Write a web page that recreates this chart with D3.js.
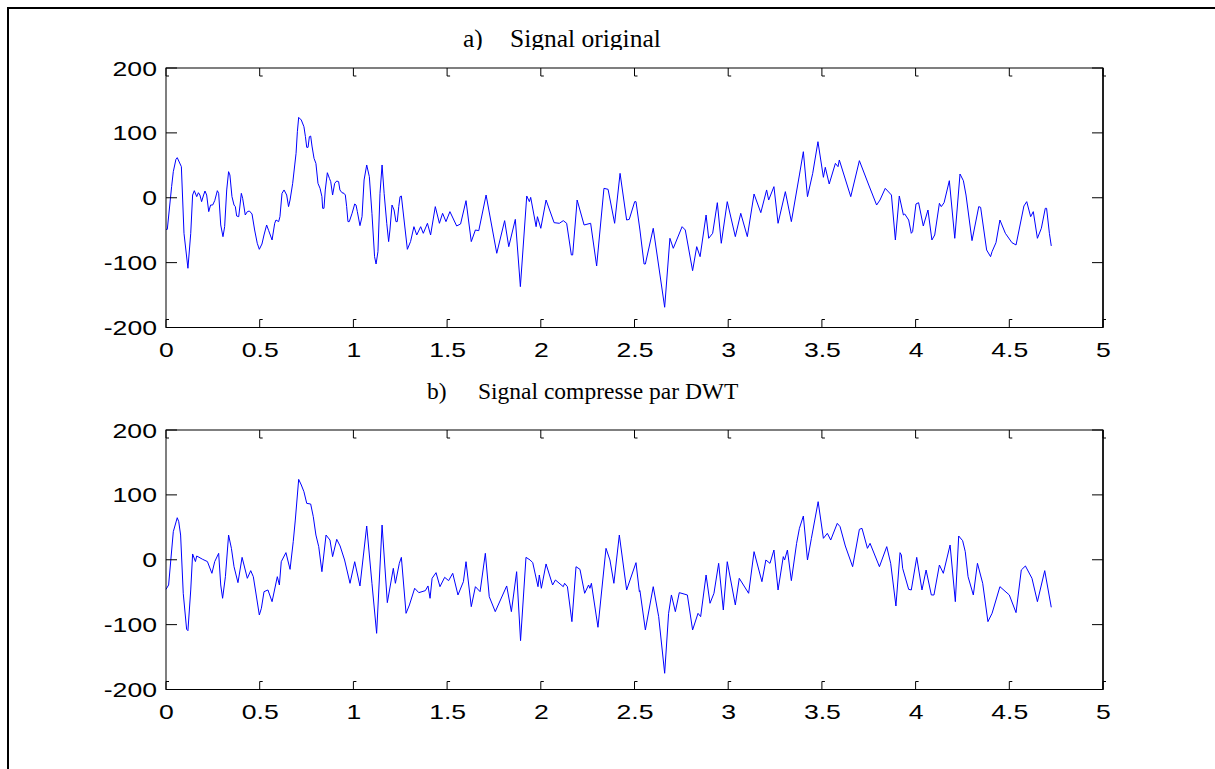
<!DOCTYPE html>
<html>
<head>
<meta charset="utf-8">
<script src="https://cdn.jsdelivr.net/npm/d3@7"></script>
<style>
  html, body { margin: 0; padding: 0; background: #fff; }
  svg { display: block; }
</style>
</head>
<body>
<script>
// ---- data -------------------------------------------------------------
// a) original signal: time (s) and amplitude
const timeOriginal = [
  0, 0.007, 0.030, 0.039, 0.053, 0.060, 0.082, 0.096, 0.117, 0.132, 0.142, 0.151, 0.164, 0.173, 0.181, 0.190,
  0.199, 0.208, 0.217, 0.228, 0.238, 0.249, 0.260, 0.274, 0.281, 0.292, 0.304, 0.313, 0.324, 0.334, 0.341, 0.352,
  0.363, 0.370, 0.377, 0.388, 0.402, 0.409, 0.423, 0.434, 0.445, 0.459, 0.473, 0.487, 0.498, 0.512, 0.523, 0.537,
  0.548, 0.566, 0.580, 0.587, 0.601, 0.608, 0.619, 0.630, 0.644, 0.654, 0.662, 0.676, 0.687, 0.694, 0.701, 0.708,
  0.722, 0.736, 0.744, 0.751, 0.758, 0.765, 0.772, 0.779, 0.790, 0.800, 0.811, 0.822, 0.832, 0.836, 0.843, 0.850,
  0.861, 0.872, 0.879, 0.889, 0.900, 0.911, 0.921, 0.928, 0.939, 0.950, 0.957, 0.964, 0.971, 0.978, 0.993, 1.007,
  1.014, 1.021, 1.035, 1.046, 1.057, 1.071, 1.085, 1.099, 1.113, 1.121, 1.131, 1.142, 1.153, 1.164, 1.178, 1.188,
  1.195, 1.206, 1.217, 1.227, 1.234, 1.242, 1.249,
  1.256, 1.288, 1.305, 1.323, 1.338, 1.359, 1.373, 1.395, 1.412, 1.437, 1.459, 1.476, 1.494, 1.515, 1.551, 1.572,
  1.601, 1.629, 1.651, 1.669, 1.708, 1.765, 1.807, 1.829, 1.864, 1.891, 1.925, 1.939, 1.946, 1.975, 1.982, 2.000,
  2.028, 2.071, 2.099, 2.120, 2.138, 2.163, 2.170, 2.194, 2.231, 2.266, 2.298, 2.337, 2.359, 2.394, 2.423, 2.458,
  2.472, 2.501, 2.508, 2.529,
  2.551, 2.558, 2.600, 2.661, 2.689, 2.707, 2.754, 2.771, 2.810, 2.832, 2.850, 2.882, 2.896, 2.917, 2.942, 2.963,
  2.995, 3.038, 3.067, 3.102, 3.138, 3.174, 3.205, 3.216, 3.244, 3.266, 3.305, 3.337, 3.380, 3.401, 3.423, 3.451,
  3.479, 3.508, 3.518, 3.539, 3.572, 3.586, 3.593, 3.654, 3.700, 3.750, 3.792, 3.810,
  3.838, 3.871, 3.892, 3.913, 3.935, 3.942, 3.963, 3.977, 3.984, 4.002, 4.016, 4.041, 4.066, 4.087, 4.102, 4.127,
  4.137, 4.152, 4.180, 4.209, 4.237, 4.255, 4.269, 4.301, 4.337, 4.347, 4.379, 4.400, 4.408, 4.429, 4.450, 4.479,
  4.514, 4.536, 4.578, 4.593, 4.614, 4.628, 4.650, 4.671, 4.692, 4.699, 4.714, 4.724
];
const valueOriginal = [
  -48.7, -48.7, 17.1, 40.2, 59.2, 61.8, 47.9, -54.8, -108.7, -54.8, 4.2, 10.9, 1.7, 7.8, 4.2, -6.0,
  2.7, 10.4, 4.2, -21.4, -11.2, -11.2, -4.5, 10.9, 6.8, -42.0, -60.0, -44.6, 12.0, 40.2, 35.1, 1.7,
  -11.2, -13.7, -28.1, -29.2, 6.8, -0.9, -26.6, -21.4, -20.4, -25.0, -49.7, -70.2, -79.5, -71.3, -57.4, -42.0,
  -50.7, -65.1, -39.4, -34.3, -36.8, -29.2, 6.8, 12.0, 4.2, -13.7, -3.5, 22.2, 50.5, 68.4, 101.8, 123.9,
  119.8, 109.5, 94.1, 77.7, 77.7, 94.1, 95.1, 79.7, 60.7, 53.0, 22.2, 14.5, 1.7, -16.3, -16.3, 12.0,
  38.6, 29.9, 24.8, 4.2, 22.2, 25.8, 24.8, 12.0, 7.8, 6.8, 4.2, -13.7, -36.8, -36.8, -24.0, -9.6,
  -11.2, -21.4, -43.0, -29.2, 27.4, 50.5, 32.5, -24.0, -90.8, -102.1, -83.1, 6.8, 50.5, 6.8, -39.4, -67.6,
  -49.7, -11.2, -18.9, -36.8, -36.8, -13.7, 1.7,
  2.7, -79.5, -67.6, -44.6, -57.4, -44.6, -54.8, -39.4, -57.4, -13.7, -39.4, -24.0, -36.8, -21.4, -43.5, -40.4,
  -4.5, -67.6, -49.7, -50.7, 4.2, -85.6, -35.3, -75.4, -33.3, -137.0, 2.7, -6.0, 0.6, -44.6, -29.2, -47.1,
  -3.5, -38.4, -39.4, -35.3, -39.4, -88.2, -88.2, -3.5, -42.0, -39.4, -105.2, 14.5, 13.0, -39.4, 37.6, -34.3,
  -33.3, -6.0, -6.0, -49.7,
  -102.1, -102.1, -47.1, -168.8, -62.5, -77.9, -44.6, -49.7, -112.4, -75.4, -90.8, -26.6, -62.5, -54.8, -7.6, -70.2,
  -6.0, -59.9, -24.0, -59.9, 5.8, -23.0, 12.0, -3.5, 17.1, -39.4, 9.4, -36.8, 35.1, 71.0, 1.7, 37.6,
  86.4, 31.5, 46.9, 21.2, 53.0, 47.9, 58.2, 1.7, 57.2, 19.6, -11.2, -3.5,
  14.5, 4.2, -65.1, 2.7, -26.6, -25.0, -34.3, -54.8, -52.2, -9.6, -7.6, -43.5, -18.9, -65.1, -57.4, -8.6,
  -13.7, -7.6, 26.3, -62.5, 36.6, 26.3, 4.2, -66.1, -13.7, -14.8, -80.5, -90.8, -83.1, -69.2, -34.3, -54.8,
  -69.2, -72.8, -12.7, -6.0, -29.2, -21.4, -62.5, -47.1, -16.3, -16.3, -54.8, -74.3
];

// b) signal compressed by DWT: time (s) and amplitude
const timeCompressed = [
  0, 0.014, 0.039, 0.060, 0.068, 0.078, 0.092, 0.110, 0.117, 0.132, 0.142, 0.157, 0.164, 0.196, 0.221, 0.245,
  0.260, 0.281, 0.292, 0.302, 0.317, 0.334, 0.349, 0.363, 0.384, 0.406, 0.434, 0.452, 0.466, 0.498, 0.509, 0.523,
  0.544, 0.566, 0.594, 0.605, 0.615, 0.640, 0.662, 0.679, 0.690, 0.708, 0.722, 0.736, 0.751, 0.772, 0.786, 0.800,
  0.815, 0.832, 0.854, 0.875, 0.889, 0.911, 0.929, 0.953, 0.982, 1.007, 1.035, 1.071, 1.099, 1.124, 1.153, 1.181,
  1.213, 1.224, 1.245,
  1.256, 1.281, 1.299, 1.327, 1.349, 1.384, 1.398, 1.409, 1.420, 1.441, 1.462, 1.487, 1.508, 1.530, 1.558, 1.587,
  1.601, 1.629, 1.651, 1.676, 1.704, 1.725, 1.757, 1.818, 1.843, 1.871, 1.892, 1.921, 1.943, 1.957, 1.985, 1.992,
  2.003, 2.028, 2.063, 2.078, 2.120, 2.127, 2.142, 2.166, 2.188, 2.209, 2.234, 2.255, 2.262, 2.270, 2.305, 2.348,
  2.369, 2.390, 2.419, 2.458, 2.508, 2.526,
  2.529, 2.558, 2.600, 2.629, 2.661, 2.682, 2.697, 2.718, 2.739, 2.782, 2.810, 2.839, 2.853, 2.882, 2.903, 2.924,
  2.949, 2.974, 2.995, 3.038, 3.059, 3.109, 3.138, 3.180, 3.201, 3.223, 3.244, 3.266, 3.294, 3.301, 3.316, 3.337,
  3.365, 3.380, 3.401, 3.423, 3.444, 3.480, 3.508, 3.529, 3.547, 3.582, 3.597, 3.625, 3.664, 3.700, 3.714, 3.743,
  3.757, 3.807,
  3.846, 3.867, 3.895, 3.917, 3.924, 3.931, 3.963, 3.977, 4.006, 4.034, 4.056, 4.084, 4.098, 4.127, 4.148, 4.184,
  4.212, 4.230, 4.251, 4.265, 4.280, 4.308, 4.330, 4.358, 4.386, 4.408, 4.450, 4.500, 4.536, 4.564, 4.586, 4.621,
  4.650, 4.689, 4.724
];
const valueCompressed = [
  -45.6, -38.9, 43.3, 64.8, 58.7, 38.1, -51.7, -107.2, -109.3, -46.6, 8.9, -2.8, 5.8, 0.6, -2.8, -20.9,
  -2.8, 9.9, -38.9, -59.4, -26.1, 38.1, 17.6, -10.7, -35.3, 3.7, -28.6, -16.8, -26.1, -85.1, -74.8, -49.2,
  -46.6, -64.6, -26.1, -38.9, -3.0, 11.0, -14.8, 27.9, 61.2, 123.9, 115.2, 104.9, 86.9, 85.9, 66.4, 38.1,
  20.2, -18.4, 38.1, 30.4, 4.8, 31.5, 21.2, -0.4, -36.3, -3.0, -40.4, 52.0, -36.3, -113.4, 53.5, -66.1,
  -13.2, -36.3, -5.5,
  3.7, -82.6, -69.7, -44.0, -50.7, -47.6, -40.4, -59.4, -28.6, -19.9, -41.5, -27.1, -32.2, -20.9, -54.3, -33.8,
  -3.0, -72.3, -41.5, -49.2, 9.9, -56.9, -80.0, -40.4, -80.0, -18.4, -124.7, 3.7, -0.4, -4.5, -41.5, -23.5,
  -44.0, -6.5, -38.9, -31.2, -41.5, -36.3, -41.5, -95.4, -10.7, -14.8, -51.7, -38.9, -44.0, -36.3, -104.1, 17.6,
  -0.4, -36.3, 38.1, -46.6, -4.5, -49.2,
  -47.6, -108.2, -41.5, -87.7, -175.0, -82.6, -54.3, -80.0, -50.7, -54.3, -108.2, -82.6, -87.7, -23.5, -67.1, -51.7,
  -5.5, -77.4, -3.0, -69.7, -28.6, -51.7, 12.5, -33.8, -0.4, -5.5, 15.0, -46.6, 4.8, -0.4, 15.0, -32.2,
  25.3, 48.4, 67.4, -0.4, 33.0, 89.5, 33.0, 40.7, 30.4, 56.1, 51.0, 21.2, -10.7, 46.9, 48.4, 17.6,
  25.3, -10.7,
  20.2, -5.5, -71.3, 10.9, 7.3, -13.2, -45.6, -46.6, 3.7, -46.6, -15.8, -54.3, -54.3, -8.1, -20.9, 22.7,
  -64.6, 36.6, 29.4, 12.5, -26.1, -54.3, -5.5, -36.3, -95.4, -82.6, -41.5, -54.3, -81.5, -15.8, -9.6, -28.6,
  -64.6, -16.8, -73.3
];

// axis ticks and titles
const xTicks = [0, 0.5, 1, 1.5, 2, 2.5, 3, 3.5, 4, 4.5, 5];
const yTicks = [-200, -100, 0, 100, 200];
const panelTags = ["a)", "b)"];
const panelTitles = ["Signal original", "Signal compresse par DWT"];

// ---- layout -----------------------------------------------------------
const W = 1215, H = 769;
const plotLeft = 166, plotRight = 1103;
const stretchX = 1.33;          // tick labels are drawn horizontally widened
const lineColor = "#0000ff";

const svg = d3.select("body").append("svg")
  .attr("width", W).attr("height", H)
  .attr("viewBox", `0 0 ${W} ${H}`);

svg.append("rect").attr("width", W).attr("height", H).attr("fill", "#fff");

// page frame (left and top edges)
svg.append("path")
  .attr("d", `M8,${H} V8 H${W}`)
  .attr("fill", "none").attr("stroke", "#000").attr("stroke-width", 2);

// the first caption sits in a text box that cuts off its descenders
const defs = svg.append("defs");
defs.append("clipPath").attr("id", "caption-a-clip")
  .append("rect").attr("x", 0).attr("y", 0).attr("width", W).attr("height", 50);

const panels = [
  { top: 68,  bottom: 327.5, t: timeOriginal,   v: valueOriginal,   tagX: 463, titleX: 510, titleY: 47,  titleSize: 25.5, clip: "url(#caption-a-clip)" },
  { top: 430, bottom: 689.5, t: timeCompressed, v: valueCompressed, tagX: 427, titleX: 478, titleY: 399, titleSize: 23.5, clip: null }
];

panels.forEach((p, k) => {
  const x = d3.scaleLinear().domain([0, 5]).range([plotLeft, plotRight]);
  const y = d3.scaleLinear().domain([-200, 200]).range([p.bottom, p.top]);
  const g = svg.append("g");

  // caption (Times style)
  const title = g.append("g")
    .attr("font-family", "'Liberation Serif', 'Times New Roman', serif")
    .attr("font-size", p.titleSize).attr("fill", "#000")
    .attr("clip-path", p.clip);
  title.append("text").attr("x", p.tagX).attr("y", p.titleY).text(panelTags[k]);
  title.append("text").attr("x", p.titleX).attr("y", p.titleY).text(panelTitles[k]);

  // signal
  const pts = p.t.map((t, i) => [t, p.v[i]]);
  g.append("path")
    .datum(pts)
    .attr("fill", "none")
    .attr("stroke", lineColor)
    .attr("stroke-width", 1)
    .attr("stroke-linejoin", "round")
    .attr("d", d3.line().x(d => x(d[0])).y(d => y(d[1])));

  // axes box
  g.append("rect")
    .attr("x", plotLeft).attr("y", p.top)
    .attr("width", plotRight - plotLeft).attr("height", p.bottom - p.top)
    .attr("fill", "none").attr("stroke", "#000").attr("stroke-width", 1);
  g.append("line")
    .attr("x1", plotRight).attr("x2", plotRight)
    .attr("y1", p.top).attr("y2", p.bottom)
    .attr("stroke", "#222").attr("stroke-width", 2);

  // tick marks with short feet
  const tickLen = 8, foot = 3;
  const tickPath = d3.path();
  xTicks.forEach(v => {
    const px = x(v);
    tickPath.moveTo(px, p.top); tickPath.lineTo(px, p.top + tickLen); tickPath.lineTo(px + foot, p.top + tickLen);
    tickPath.moveTo(px, p.bottom); tickPath.lineTo(px, p.bottom - tickLen); tickPath.lineTo(px + foot, p.bottom - tickLen);
  });
  yTicks.forEach(v => {
    const py = y(v);
    tickPath.moveTo(plotLeft, py); tickPath.lineTo(plotLeft + 11, py);
    tickPath.moveTo(plotRight, py); tickPath.lineTo(plotRight - 11, py);
  });
  g.append("path").attr("d", tickPath.toString())
    .attr("fill", "none").attr("stroke", "#000").attr("stroke-width", 1);

  // tick labels
  const xAxis = g.append("g")
    .attr("transform", `translate(0,${p.bottom})`)
    .call(d3.axisBottom(x).tickValues(xTicks).tickSize(0).tickPadding(15.6).tickFormat(d => String(d)));
  const yAxis = g.append("g")
    .attr("transform", `translate(${plotLeft},0)`)
    .call(d3.axisLeft(y).tickValues(yTicks).tickSize(0).tickPadding(6.8).tickFormat(d => String(d)));

  [xAxis, yAxis].forEach(a => {
    a.select(".domain").remove();
    a.selectAll("text")
      .attr("font-family", "'Liberation Sans', Arial, sans-serif")
      .attr("font-size", 20)
      .attr("fill", "#000")
      .attr("transform", `scale(${stretchX},1)`);
  });
  yAxis.selectAll("text").attr("dy", "0.35em");
});
</script>
</body>
</html>
